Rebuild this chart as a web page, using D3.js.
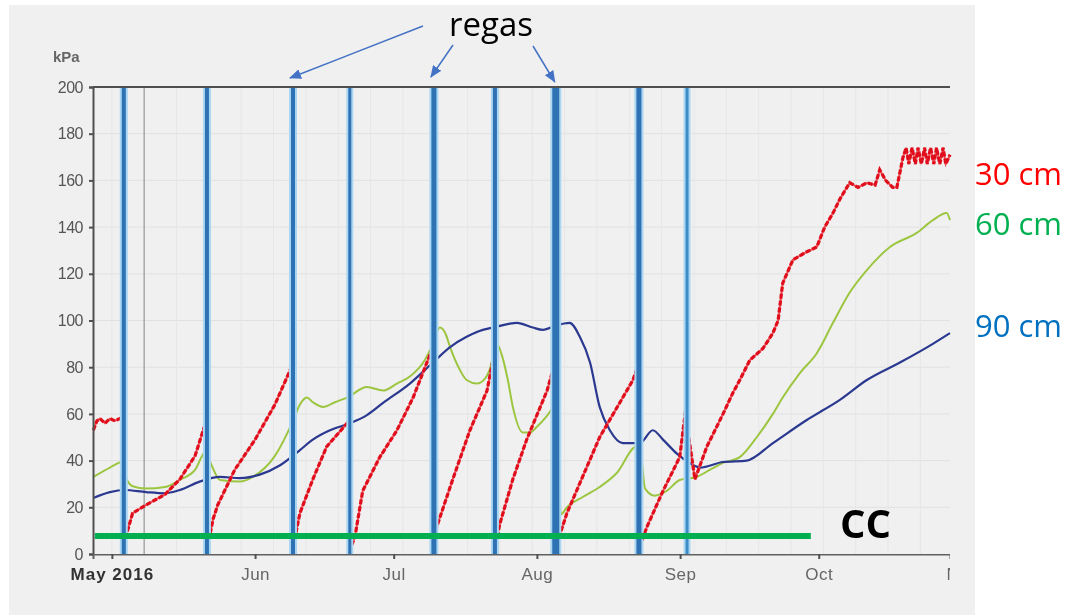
<!DOCTYPE html>
<html lang="pt">
<head>
<meta charset="utf-8">
<script src="https://d3js.org/d3.v7.min.js"></script>
<style>
  body { margin: 0; background: #fff; }
  svg text { font-family: "Liberation Sans", Arial, sans-serif; }
  .ann { font-family: "Open Sans", sans-serif !important; }
</style>
</head>
<body>
<script>
// tensao da agua no solo (kPa), sondas a 30, 60 e 90 cm
const yTicks = [0, 20, 40, 60, 80, 100, 120, 140, 160, 180, 200];
const monthTicks = ["05-01 00", "06-01 00", "07-01 00", "08-01 00", "09-01 00", "10-01 00", "11-01 00"];
const monthLabels = ["May 2016", "Jun", "Jul", "Aug", "Sep", "Oct", "Nov"];

// datas das regas
const regas = ["05-03 14", "05-21 14", "06-09 05", "06-21 12", "07-09 17", "07-22 22", "08-05 02", "08-23 02", "09-02 12"];
const regasArrowed = [2, 4, 6];

const ccValue = 7.7;
const ccDates = ["04-27 07", "09-29 07"];

const red30 = [
  ["04-27 00", 53], ["04-27 18", 57], ["04-28 10", 58], ["04-29 12", 56], ["04-30 14", 58],
  ["05-01 16", 57], ["05-02 17", 58], ["05-03 09", 57],
  ["05-03 14", 2], ["05-04 06", 9], ["05-05 12", 17.5], ["05-08 10", 21], ["05-12 12", 25.5],
  ["05-15 17", 32], ["05-19 00", 42], ["05-21 10", 57],
  ["05-21 14", 2], ["05-22 22", 15], ["05-23 22", 21], ["05-27 14", 36], ["06-01 00", 49],
  ["06-05 07", 64], ["06-09 02", 81],
  ["06-09 05", 3], ["06-10 17", 17.5], ["06-13 12", 32], ["06-16 12", 46], ["06-20 22", 56], ["06-21 09", 57],
  ["06-21 12", 2], ["06-22 14", 7], ["06-24 07", 27], ["06-28 00", 41.5], ["07-01 17", 53],
  ["07-05 05", 67], ["07-09 14", 89],
  ["07-09 17", 3], ["07-10 07", 11.5], ["07-13 19", 32], ["07-17 12", 53], ["07-21 05", 70], ["07-22 19", 86],
  ["07-22 22", 3], ["07-24 00", 13], ["07-26 19", 32], ["07-29 19", 49], ["08-03 05", 70], ["08-04 22", 82],
  ["08-05 02", 3], ["08-07 12", 17.5], ["08-14 14", 50], ["08-21 19", 74.5], ["08-22 22", 81],
  ["08-23 02", 2], ["08-24 19", 11.5], ["08-28 07", 27], ["08-31 22", 41.5], ["09-02 05", 62],
  ["09-02 12", 55], ["09-04 05", 32], ["09-06 19", 46], ["09-10 07", 60], ["09-12 10", 69],
  ["09-13 22", 74.5], ["09-16 02", 83], ["09-18 22", 88], ["09-21 02", 94.6], ["09-22 05", 100],
  ["09-23 05", 116], ["09-25 10", 126], ["09-28 00", 129], ["09-30 14", 131.5], ["10-02 07", 140],
  ["10-04 02", 146], ["10-05 14", 152], ["10-07 17", 159], ["10-09 12", 157], ["10-11 10", 159],
  ["10-13 05", 158], ["10-14 05", 164.5], ["10-15 12", 160], ["10-17 00", 157], ["10-17 22", 157],
  ["10-19 05", 169.6], ["10-19 22", 174], ["10-20 12", 167], ["10-21 05", 174], ["10-21 22", 167],
  ["10-22 12", 174], ["10-23 05", 167], ["10-23 22", 174], ["10-24 12", 167], ["10-25 05", 174],
  ["10-25 22", 167], ["10-26 12", 174], ["10-27 05", 167], ["10-27 22", 174], ["10-28 12", 167],
  ["10-29 10", 171]
];

const green60 = [
  ["04-27 00", 33], ["04-30 14", 37], ["05-03 09", 39.5], ["05-04 00", 33], ["05-05 12", 29],
  ["05-08 10", 28], ["05-12 12", 28.7], ["05-15 17", 31.7], ["05-19 00", 36], ["05-21 07", 43.7],
  ["05-22 14", 38], ["05-24 10", 31.7], ["05-28 17", 31], ["05-31 12", 33], ["06-05 07", 42],
  ["06-09 05", 57], ["06-10 17", 64], ["06-12 05", 67], ["06-13 12", 65], ["06-15 17", 63],
  ["06-18 07", 65], ["06-20 22", 67], ["06-25 05", 71.5], ["06-28 17", 70], ["07-01 17", 73],
  ["07-04 12", 76], ["07-07 17", 83], ["07-09 12", 90], ["07-11 00", 97], ["07-12 07", 94],
  ["07-13 05", 88.6], ["07-15 07", 79], ["07-16 19", 74.5], ["07-19 00", 73], ["07-20 17", 75],
  ["07-21 19", 79], ["07-23 07", 90], ["07-24 14", 84], ["07-25 17", 74.5], ["07-26 19", 63],
  ["07-29 00", 52], ["07-30 12", 52], ["08-01 00", 54.5], ["08-04 12", 63], ["08-05 02", 65],
  ["08-06 05", 17], ["08-07 12", 20], ["08-10 22", 24.4], ["08-14 14", 28.7], ["08-18 07", 34.7],
  ["08-22 14", 46], ["08-23 07", 46], ["08-24 10", 28], ["08-26 12", 25], ["08-29 02", 27],
  ["08-31 22", 31.7], ["09-04 14", 33], ["09-07 10", 36], ["09-10 07", 39], ["09-13 22", 41.5],
  ["09-17 14", 50], ["09-21 02", 60], ["09-23 05", 67], ["09-26 22", 77.5], ["09-30 14", 86],
  ["10-04 02", 99], ["10-07 17", 112], ["10-11 10", 121.6], ["10-16 10", 131.5], ["10-22 05", 137.5],
  ["10-25 17", 143], ["10-28 17", 146], ["10-29 10", 143]
];

const blue90 = [
  ["04-27 00", 24], ["04-30 14", 26.5], ["05-03 19", 27.4], ["05-08 10", 26.5], ["05-12 12", 26],
  ["05-15 17", 27.4], ["05-20 00", 31], ["05-24 10", 33], ["05-28 17", 32.5], ["06-02 00", 34],
  ["06-06 10", 38], ["06-10 17", 44.5], ["06-13 12", 49], ["06-17 05", 53], ["06-21 12", 56],
  ["06-25 05", 59.5], ["06-28 17", 64.7], ["07-04 12", 73], ["07-09 12", 82], ["07-13 05", 88.6],
  ["07-16 19", 93], ["07-20 07", 96], ["07-22 12", 97], ["07-27 17", 99], ["07-31 02", 97],
  ["08-02 07", 96], ["08-05 07", 98], ["08-08 02", 99], ["08-10 07", 93], ["08-12 12", 82],
  ["08-14 14", 63], ["08-16 19", 53], ["08-19 14", 47.5], ["08-23 07", 47.5], ["08-26 02", 53],
  ["08-28 07", 49], ["08-31 07", 43], ["09-03 02", 39], ["09-05 07", 37], ["09-10 07", 39.4],
  ["09-15 10", 40], ["09-21 02", 47.5], ["09-28 10", 57.4], ["10-05 14", 66], ["10-11 10", 74.5],
  ["10-18 14", 82], ["10-25 17", 90], ["10-29 10", 94.6]
];

const seriesLabels = ["30 cm", "60 cm", "90 cm"];

const parse = s => d3.timeParse("%Y-%m-%d %H")("2016-" + s);

const svg = d3.select("body").append("svg")
  .attr("width", 1066)
  .attr("height", 615);

const defs = svg.append("defs");
defs.append("filter").attr("id", "soft")
  .append("feGaussianBlur").attr("stdDeviation", 0.45);
defs.append("clipPath").attr("id", "axclip")
  .append("rect").attr("x", 0).attr("y", 0).attr("width", 950).attr("height", 615);
defs.append("marker")
  .attr("id", "head")
  .attr("viewBox", "0 0 12 10")
  .attr("refX", 11).attr("refY", 5)
  .attr("markerWidth", 12).attr("markerHeight", 10)
  .attr("markerUnits", "userSpaceOnUse")
  .attr("orient", "auto")
  .append("path").attr("d", "M0,0L12,5L0,10Z").attr("fill", "#4472c4");

// fundo cinzento da imagem
svg.append("rect")
  .attr("x", 9).attr("y", 5)
  .attr("width", 966).attr("height", 610)
  .attr("fill", "#f0f0f0");

const x = d3.scaleTime()
  .domain([parse("04-26 22"), parse("10-29 10")])
  .range([93, 950]);
const y = d3.scaleLinear()
  .domain([0, 200])
  .range([554, 87]);

const chart = svg.append("g").attr("filter", "url(#soft)");

// grelha
chart.append("g").selectAll("line")
  .data(yTicks.slice(1))
  .join("line")
  .attr("x1", 93).attr("x2", 950)
  .attr("y1", d => y(d)).attr("y2", d => y(d))
  .attr("stroke", "#e1e1e1").attr("stroke-width", 1);

chart.append("g").selectAll("line")
  .data(d3.timeWeek.range(parse("05-01 00"), parse("10-29 00")))
  .join("line")
  .attr("x1", d => x(d)).attr("x2", d => x(d))
  .attr("y1", y(200)).attr("y2", y(0))
  .attr("stroke", (d, i) => i === 1 ? "#a8a8a8" : "#e6e6e6")
  .attr("stroke-width", (d, i) => i === 1 ? 1.5 : 1);

const line = d3.line()
  .x(d => x(parse(d[0])))
  .y(d => y(d[1]));
const smooth = d3.line()
  .x(d => x(parse(d[0])))
  .y(d => y(d[1]))
  .curve(d3.curveMonotoneX);

chart.append("path").datum(green60)
  .attr("d", smooth).attr("fill", "none")
  .attr("stroke", "#9cc641").attr("stroke-width", 2);

chart.append("path").datum(blue90)
  .attr("d", smooth).attr("fill", "none")
  .attr("stroke", "#2b3990").attr("stroke-width", 2.2);

chart.append("path").datum(red30)
  .attr("d", line).attr("fill", "none")
  .attr("stroke", "#ec4a55").attr("stroke-width", 2);
chart.append("path").datum(red30)
  .attr("d", line).attr("fill", "none")
  .attr("stroke", "#e0101a").attr("stroke-width", 3.2)
  .attr("stroke-dasharray", "5 2");

// regas
const regaW = [4, 4, 4, 3, 5, 4, 7, 5, 3];
const rg = chart.append("g");
rg.selectAll("line.halo")
  .data(regas)
  .join("line").attr("class", "halo")
  .attr("x1", d => x(parse(d))).attr("x2", d => x(parse(d)))
  .attr("y1", y(200)).attr("y2", y(0))
  .attr("stroke", "#a9d6f2")
  .attr("stroke-width", (d, i) => regaW[i] + 4);
rg.selectAll("line.core")
  .data(regas)
  .join("line").attr("class", "core")
  .attr("x1", d => x(parse(d))).attr("x2", d => x(parse(d)))
  .attr("y1", y(200)).attr("y2", y(0))
  .attr("stroke", (d, i) => i === 8 ? "#3d8cc8" : "#2f72b4")
  .attr("stroke-width", (d, i) => regaW[i]);

// eixos
chart.append("line")
  .attr("x1", 93).attr("x2", 950)
  .attr("y1", y(200)).attr("y2", y(200))
  .attr("stroke", "#505050").attr("stroke-width", 2);

const yAxis = chart.append("g")
  .attr("transform", "translate(93,0)")
  .call(d3.axisLeft(y).tickValues(yTicks).tickSize(4).tickPadding(6));
yAxis.select(".domain").attr("stroke", "#505050").attr("stroke-width", 2);
yAxis.selectAll(".tick line").attr("stroke", "#505050").attr("stroke-width", 2);
yAxis.selectAll("text")
  .attr("fill", "#555").style("font-size", "16px").attr("letter-spacing", "-0.5");

const xAxis = chart.append("g")
  .attr("transform", "translate(0,554)")
  .attr("clip-path", "url(#axclip)")
  .call(d3.axisBottom(x)
    .tickValues(monthTicks.map(parse))
    .tickFormat((d, i) => monthLabels[i])
    .tickSize(5).tickPadding(9));
xAxis.select(".domain").attr("stroke", "#606060").attr("stroke-width", 2);
xAxis.selectAll(".tick line").attr("stroke", "#505050").attr("stroke-width", 2);
xAxis.selectAll("text")
  .attr("fill", (d, i) => i === 0 ? "#333" : "#666")
  .style("font-size", "17px")
  .attr("letter-spacing", (d, i) => i === 0 ? "1" : "0.5")
  .style("font-weight", (d, i) => i === 0 ? "bold" : "normal");

chart.append("text")
  .attr("x", 53).attr("y", 62)
  .attr("fill", "#666")
  .style("font-size", "15px").style("font-weight", "bold")
  .text("kPa");

// capacidade de campo
svg.append("line")
  .attr("x1", x(parse(ccDates[0]))).attr("x2", x(parse(ccDates[1])))
  .attr("y1", y(ccValue)).attr("y2", y(ccValue))
  .attr("stroke", "#00b050").attr("stroke-width", 6);

svg.append("text").attr("class", "ann")
  .attr("x", 840).attr("y", 538)
  .attr("fill", "#000")
  .style("font-size", "40px").style("font-weight", "bold")
  .text("CC");

// anotacao das regas
svg.append("text").attr("class", "ann")
  .attr("x", 491).attr("y", 36)
  .attr("text-anchor", "middle")
  .attr("fill", "#000")
  .style("font-size", "33px")
  .text("regas");

const arrowStarts = [[423, 26], [453, 45], [533, 46]];
svg.append("g").selectAll("line")
  .data(regasArrowed)
  .join("line")
  .attr("x1", (d, i) => arrowStarts[i][0])
  .attr("y1", (d, i) => arrowStarts[i][1])
  .attr("x2", (d, i) => x(parse(regas[d])) + [-3, -3, -1][i])
  .attr("y2", (d, i) => [78, 77, 82][i])
  .attr("stroke", "#4472c4").attr("stroke-width", 1.5)
  .attr("marker-end", "url(#head)");

// legendas das profundidades
const labelColors = ["#ff0000", "#00b050", "#0070c0"];
const labelY = [185, 235, 337];
svg.append("g").selectAll("text")
  .data(seriesLabels)
  .join("text").attr("class", "ann")
  .attr("x", 975)
  .attr("y", (d, i) => labelY[i])
  .attr("fill", (d, i) => labelColors[i])
  .style("font-size", "31px")
  .text(d => d);
</script>
</body>
</html>
